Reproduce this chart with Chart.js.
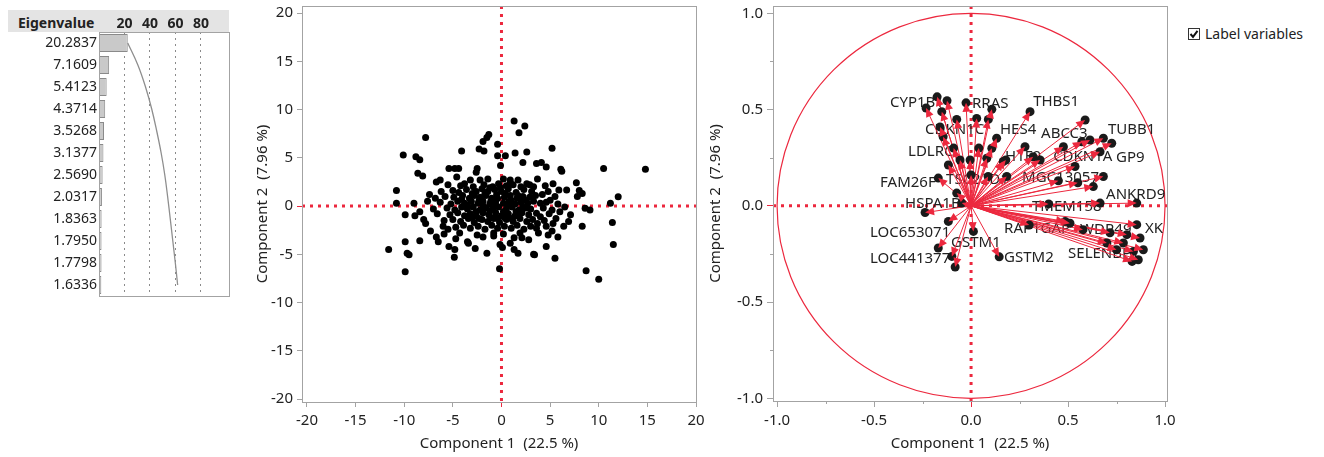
<!DOCTYPE html>
<html>
<head>
<meta charset="utf-8">
<script src="https://cdn.jsdelivr.net/npm/chart.js@4.4.1/dist/chart.umd.min.js"></script>
<style>
  body { margin:0; background:#fff; width:1324px; height:457px; position:relative; overflow:hidden; font-family:"Noto Sans", sans-serif; }
  canvas { position:absolute; top:0; }
  #eigenBand { position:absolute; left:8px; top:10px; width:221px; height:22px; background:#e4e4e4; }
  #eigenHead { position:absolute; left:18px; top:15px; font:bold 14px/16px "Noto Sans"; color:#222; }
  #labelToggle { position:absolute; left:1188px; top:26px; font:14px/16px "Noto Sans"; color:#222; }
  #labelToggle svg { vertical-align:-1px; margin-right:5px; }
</style>
</head>
<body>
<div id="eigenBand"></div>
<div id="eigenHead">Eigenvalue</div>
<canvas id="eigenChart" width="240" height="300" style="left:0"></canvas>
<canvas id="scoreChart" width="475" height="457" style="left:240px"></canvas>
<canvas id="loadChart" width="485" height="457" style="left:700px"></canvas>
<div id="labelToggle"><svg width="12" height="12"><rect x="0.5" y="0.5" width="11" height="11" fill="#fff" stroke="#333"/><polyline points="2.5,6 5,8.8 9.5,2.8" fill="none" stroke="#111" stroke-width="2"/></svg>Label variables</div>
<script>
// eigenvalue table
const eigenvalues = ['20.2837','7.1609','5.4123','4.3714','3.5268','3.1377','2.5690','2.0317','1.8363','1.7950','1.7798','1.6336'];
const percentVar = [22.54, 7.96, 6.01, 4.86, 3.92, 3.49, 2.85, 2.26, 2.04, 1.99, 1.98, 1.82];
const cumPercent = [22.54, 30.49, 36.51, 41.36, 45.28, 48.77, 51.62, 53.88, 55.92, 57.91, 59.89, 61.71];
const eigenTicks = [20, 40, 60, 80];

// score plot (component 1, component 2)
const scorePoints = [
  [1.3,8.8],[2.4,8.3],[1.8,7.6],[-7.8,7.1],[-1.3,7.4],[-1.5,7.1],[-1.9,6.7],[-0.4,6.4],[-10.1,5.3],[-8.8,5.1],
  [-8.4,4.8],[-4.1,5.7],[-2.3,5.9],[-1.8,5.7],[0.4,5.2],[1.4,5.5],[2.6,5.6],[-0.4,5.2],[-0.1,4.2],[2.2,4.5],
  [3.6,4.4],[-8.6,3.4],[-8.1,3.1],[-5.4,3.9],[-4.8,3.9],[-4.4,3.9],[-2.5,3.9],[-2.6,3.5],[-4.6,3.0],[-6.7,2.5],
  [-6.3,2.7],[-10.8,1.6],[-10.8,0.3],[-6.2,1.5],[-3.2,2.7],[-2.2,2.7],[-1.4,2.8],[0.2,2.8],[0.9,2.7],[1.7,2.7],
  [2.6,2.3],[3.3,2.0],[3.7,2.8],[5.2,6.0],[4.1,4.5],[4.6,4.05],[6.1,3.8],[6.2,3.6],[10.5,3.9],[14.8,3.8],
  [7.7,2.4],[5.9,1.65],[6.7,1.65],[8.0,1.6],[8.3,1.3],[7.8,1.0],[4.2,1.2],[12.0,0.96],[11.2,0.3],[8.6,-0.24],
  [9.1,-0.4],[7.1,-0.9],[8.3,-2.1],[11.4,-1.7],[11.5,-4.0],[4.6,-4.2],[3.4,-5.05],[5.5,-5.4],[8.7,-6.7],[10.0,-7.6],
  [4.6,-2.1],[3.6,-2.3],[3.8,-2.8],[5.8,-3.2],[6.4,-2.1],[4.0,0.3],[3.6,-0.75],
  [-9.9,-0.9],[-8.4,-0.6],[-8.0,-1.4],[-7.3,-2.6],[-6.0,-2.1],[-6.7,-3.2],[-6.5,-3.7],[-9.9,-3.7],[-8.4,-3.6],[-11.6,-4.5],
  [-9.7,-4.9],[-9.5,-5.05],[-9.9,-6.8],[-5.4,-4.2],[-4.8,-4.5],[-4.85,-5.3],[-4.7,-3.4],[-3.5,-3.7],[-3.4,-3.85],[-2.7,-4.4],
  [-1.5,-4.9],[-0.2,-6.5],[-0.15,-4.0],[0.1,-4.3],[1.3,-4.5],[1.7,-4.9],[0.9,-3.85],[1.3,-3.3],[2.1,-3.3],[3.3,-5.0],
  [-2.5,-3.0],[-0.8,-2.8],[-0.8,-3.1],
  [-5.5,2.2],[-4.2,2.1],[-3.8,2.3],[-2.9,2.0],[-1.8,2.2],[-0.9,2.0],[-0.3,2.3],[0.5,2.1],[1.2,2.2],[2.0,2.0],[2.9,2.2],[4.5,2.1],[5.3,2.3],
  [-7.4,1.2],[-5.0,1.6],[-4.4,1.4],[-3.6,1.7],[-2.6,1.5],[-2.0,1.8],[-1.4,1.5],[-0.7,1.7],[0.0,1.5],[0.7,1.8],[1.5,1.4],[2.3,1.7],[3.1,1.5],[4.8,1.5],[5.5,1.0],
  [-6.8,0.8],[-5.8,1.0],[-4.9,0.9],[-4.0,1.1],[-3.3,0.8],[-2.8,1.1],[-2.2,0.9],[-1.6,1.1],[-1.0,0.8],[-0.5,1.2],[0.3,0.9],[0.9,1.1],[1.6,0.8],[2.2,1.0],[2.9,0.9],[3.5,1.1],[5.0,0.6],
  [-9.0,0.3],[-7.6,0.5],[-6.3,0.4],[-5.2,0.2],[-4.5,0.5],[-3.8,0.3],[-3.1,0.5],[-2.4,0.3],[-1.9,0.5],[-1.2,0.2],[-0.6,0.5],[0.2,0.3],[0.8,0.5],[1.4,0.2],[2.0,0.4],[2.7,0.3],[3.3,0.5],[4.6,0.4],[5.8,0.2],[6.5,-0.1],
  [-7.0,-0.3],[-5.6,-0.2],[-4.8,-0.4],[-4.1,-0.1],[-3.5,-0.3],[-2.9,-0.1],[-2.2,-0.4],[-1.6,-0.2],[-0.9,-0.3],[-0.3,-0.1],[0.5,-0.3],[1.1,-0.1],[1.8,-0.4],[2.5,-0.2],[3.0,-0.3],[4.3,-0.2],[5.2,-0.4],[6.0,-0.6],
  [-8.9,-1.0],[-6.6,-0.8],[-5.3,-0.9],[-4.5,-0.7],[-3.8,-1.0],[-3.2,-0.8],[-2.6,-1.0],[-1.9,-0.7],[-1.3,-0.9],[-0.6,-0.7],[0.0,-1.0],[0.7,-0.8],[1.4,-1.0],[2.1,-0.7],[2.8,-0.9],[4.0,-1.1],[4.9,-0.8],[5.6,-1.3],
  [-7.8,-1.8],[-5.9,-1.5],[-5.0,-1.4],[-4.2,-1.6],[-3.4,-1.3],[-2.8,-1.7],[-2.0,-1.4],[-1.4,-1.6],[-0.8,-1.3],[-0.2,-1.7],[0.5,-1.4],[1.2,-1.6],[1.9,-1.3],[2.6,-1.6],[3.2,-1.4],[4.4,-1.5],[5.3,-1.8],[6.9,-1.6],
  [-5.5,-2.4],[-4.7,-2.2],[-3.9,-2.0],[-3.2,-2.3],[-2.4,-2.1],[-1.7,-2.4],[-1.0,-2.0],[-0.4,-2.3],[0.3,-2.1],[1.0,-2.3],[1.6,-2.0],[2.3,-2.4],[3.0,-2.1],[5.2,-2.6],
  [-5.9,-2.9],[-4.3,-2.8],[-1.9,-3.2],[0.2,-2.9],[1.9,-2.8],[2.8,-3.5],[4.8,-3.0],
  [-3.0,1.3],[-2.3,0.6],[-1.7,1.3],[-1.1,0.5],[-0.4,0.8],[0.4,1.3],[1.0,0.6],[1.7,1.1],[2.4,0.6],[-2.6,-0.6],
  [-1.9,0.0],[-1.2,-0.5],[-0.6,0.1],[0.2,-0.6],[0.8,0.1],[1.5,-0.6],[2.2,-0.1],[-3.0,-1.2],[-2.3,-1.3],[-1.1,-1.2],
  [-0.4,-1.3],[0.3,-1.2],[1.0,-1.3],[1.7,-1.0],[-3.5,0.1],[-4.1,0.7],[-0.1,1.9],[-1.2,1.9],[0.9,2.4],[3.7,-1.8]
];
const scoreTicks = [-20, -15, -10, -5, 0, 5, 10, 15, 20];

// loading plot (component 1, component 2)
const loadings = [
  [-0.175,0.566],[-0.124,0.546],[-0.232,0.508],[-0.151,0.489],[-0.026,0.535],[0.107,0.501],[-0.074,0.449],[0.029,0.454],[0.089,0.449],[-0.160,0.410],
  [-0.144,0.359],[0.132,0.351],[0.107,0.299],[-0.117,0.212],[-0.057,0.238],[-0.005,0.238],[0.081,0.247],[0.179,0.238],[-0.169,0.144],[0.184,0.152],
  [0.088,0.152],[0.0,0.16],[-0.074,0.066],[0.04,0.30],[-0.09,0.30],
  [0.304,0.489],[0.278,0.307],[0.320,0.255],[0.588,0.446],[0.613,0.342],[0.571,0.333],[0.682,0.351],[0.725,0.325],[0.476,0.307],[0.356,0.238],
  [0.166,0.230],[0.536,0.204],[0.665,0.281],[0.682,0.152],[0.630,0.100],[0.45,0.13],[0.55,0.12],
  [0.665,0.014],[0.854,0.014],[0.485,-0.081],[0.854,-0.098],[0.803,-0.150],[0.871,-0.167],[0.837,-0.237],[0.888,-0.228],[0.862,-0.280],[0.785,-0.193],
  [0.51,-0.09],[0.577,-0.124],[0.716,-0.140],[0.700,-0.193],[0.750,-0.228],[0.830,-0.289],[0.40,0.01],[0.30,-0.10],
  [-0.048,0.014],[-0.237,-0.035],[-0.117,-0.081],[0.012,-0.133],[-0.169,-0.219],[-0.099,-0.263],[-0.082,-0.318],[0.145,-0.265]
];
const varLabels = ['CYP1B1','RRAS','THBS1','CDKN1C','HES4','ABCC3','TUBB1','LDLRC','H1F0','CDKN1A','GP9','FAM26F','TSC22D1',
  'MGC13057','ANKRD9','HSPA1B','TMEM158','XK','LOC653071','RAP1GAP','WDR49','SELENBP1','GSTM1','LOC441377','GSTM2'];
const labelAt = [[-0.418,0.534],[0.005,0.528],[0.32,0.539],[-0.237,0.394],[0.149,0.394],[0.361,0.373],[0.706,0.394],[-0.325,0.28],
  [0.175,0.254],[0.423,0.254],[0.747,0.249],[-0.469,0.119],[-0.129,0.135],[0.263,0.145],[0.696,0.057],[-0.34,0.01],[0.314,-0.005],
  [0.897,-0.119],[-0.521,-0.14],[0.17,-0.119],[0.562,-0.124],[0.5,-0.249],[-0.103,-0.192],[-0.521,-0.275],[0.17,-0.269]];
const loadTicks = [-1, -0.5, 0, 0.5, 1];

const RED = 'rgb(236,40,62)';
const AXIS = '#a3a3a3';
const INK = '#222';
Chart.defaults.font.family = '"Noto Sans", sans-serif';
Chart.defaults.animation = false;

// box round the plot area
const frameBox = {
  id: 'frameBox',
  afterDatasetsDraw(chart) {
    const {ctx, chartArea: a} = chart;
    ctx.save();
    ctx.strokeStyle = AXIS;
    ctx.lineWidth = 1;
    ctx.strokeRect(Math.round(a.left) + 0.5, Math.round(a.top) + 0.5, Math.round(a.right - a.left), Math.round(a.bottom - a.top));
    ctx.restore();
  }
};

// red dotted lines through 0,0
const zeroLines = {
  id: 'zeroLines',
  beforeDatasetsDraw(chart) {
    const {ctx, chartArea: a, scales: {x, y}} = chart;
    const x0 = x.getPixelForValue(0), y0 = y.getPixelForValue(0);
    ctx.save();
    ctx.strokeStyle = RED;
    ctx.lineWidth = 3;
    ctx.setLineDash([3, 5]);
    ctx.beginPath(); ctx.moveTo(x0, a.top); ctx.lineTo(x0, a.bottom); ctx.stroke();
    ctx.beginPath(); ctx.moveTo(a.left, y0); ctx.lineTo(a.right, y0); ctx.stroke();
    ctx.restore();
  }
};

function fixedTicks(values) {
  return s => { s.ticks = values.map(v => ({value: v})); };
}
function tickColor(c) {
  return c.tick && c.tick.value === 0 ? RED : AXIS;
}

// ---- eigenvalue bars ----
new Chart(document.getElementById('eigenChart'), {
  type: 'bar',
  data: {
    labels: eigenvalues,
    datasets: [
      {type: 'line', indexAxis: 'y', data: cumPercent, borderColor: '#8e8e8e', borderWidth: 1.3, pointRadius: 0, tension: 0.4, order: 0},
      {data: percentVar, backgroundColor: '#c9c9c9', borderColor: '#8a8a8a', borderWidth: 1, borderSkipped: false,
       barPercentage: 0.82, categoryPercentage: 1, order: 1}
    ]
  },
  options: {
    indexAxis: 'y',
    responsive: false,
    layout: {padding: {top: 10, right: 11, bottom: 4, left: 0}},
    plugins: {legend: {display: false}, tooltip: {enabled: false}},
    scales: {
      x: {
        position: 'top', min: 0, max: 102,
        afterBuildTicks: fixedTicks(eigenTicks),
        ticks: {padding: 0, color: INK, font: {size: 14, weight: 'bold'}, maxRotation: 0, autoSkip: false},
        grid: {drawTicks: false, color: '#8a8a8a', lineWidth: 1},
        border: {display: false, dash: [2, 4]},
        afterFit: s => { s.height = 22; s.paddingLeft = 0; s.paddingRight = 0; }
      },
      y: {
        ticks: {padding: 2, color: INK, font: {size: 14}},
        grid: {display: false, drawTicks: false},
        border: {display: false},
        afterFit: s => { s.width = 99; s.paddingTop = 0; s.paddingBottom = 0; }
      }
    }
  },
  plugins: [frameBox]
});

// ---- score plot ----
new Chart(document.getElementById('scoreChart'), {
  type: 'scatter',
  data: {
    datasets: [{
      data: scorePoints.map(p => ({x: p[0], y: p[1]})),
      backgroundColor: '#000', borderColor: '#000', pointRadius: 3.5, borderWidth: 0
    }]
  },
  options: {
    responsive: false,
    layout: {padding: {top: 6, right: 19, bottom: 0, left: 0}},
    plugins: {legend: {display: false}, tooltip: {enabled: false}},
    scales: {
      x: {
        min: -20.51, max: 20,
        afterBuildTicks: fixedTicks(scoreTicks),
        ticks: {padding: 5, color: INK, font: {size: 15}, maxRotation: 0, autoSkip: false},
        grid: {drawOnChartArea: false, tickLength: 5, color: tickColor},
        border: {display: false},
        title: {display: true, text: 'Component 1  (22.5 %)', color: INK, font: {size: 15}, padding: {top: 0, bottom: 4}},
        afterFit: s => { s.height = 55; s.paddingLeft = 0; s.paddingRight = 0; }
      },
      y: {
        min: -20.31, max: 20.73,
        afterBuildTicks: fixedTicks(scoreTicks),
        ticks: {padding: 4, color: INK, font: {size: 15}, autoSkip: false},
        grid: {drawOnChartArea: false, tickLength: 5, color: tickColor},
        border: {display: false},
        title: {display: true, text: 'Component 2  (7.96 %)', color: INK, font: {size: 15}, padding: {top: 14, bottom: 0}},
        afterFit: s => { s.width = 62; s.paddingTop = 0; s.paddingBottom = 0; }
      }
    }
  },
  plugins: [zeroLines, frameBox]
});

// ---- loading plot ----
const unitCircle = {
  id: 'unitCircle',
  beforeDatasetsDraw(chart) {
    const {ctx, scales: {x, y}} = chart;
    const cx = x.getPixelForValue(0), cy = y.getPixelForValue(0);
    ctx.save();
    ctx.strokeStyle = RED;
    ctx.lineWidth = 1.2;
    ctx.beginPath();
    ctx.ellipse(cx, cy, x.getPixelForValue(1) - cx, cy - y.getPixelForValue(1), 0, 0, Math.PI * 2);
    ctx.stroke();
    // variable names sit under the arrows
    ctx.fillStyle = INK;
    ctx.font = '15px "Noto Sans"';
    ctx.textBaseline = 'middle';
    varLabels.forEach((name, i) => {
      ctx.fillText(name, x.getPixelForValue(labelAt[i][0]), y.getPixelForValue(labelAt[i][1]));
    });
    ctx.restore();
  },
  afterDatasetsDraw(chart) {
    const {ctx, scales: {x, y}} = chart;
    const ox = x.getPixelForValue(0), oy = y.getPixelForValue(0);
    const meta = chart.getDatasetMeta(0);
    ctx.save();
    ctx.fillStyle = RED;
    meta.data.forEach(pt => {
      const a = Math.atan2(pt.y - oy, pt.x - ox);
      ctx.beginPath();
      ctx.moveTo(pt.x, pt.y);
      ctx.lineTo(pt.x - 9 * Math.cos(a) + 4 * Math.sin(a), pt.y - 9 * Math.sin(a) - 4 * Math.cos(a));
      ctx.lineTo(pt.x - 9 * Math.cos(a) - 4 * Math.sin(a), pt.y - 9 * Math.sin(a) + 4 * Math.cos(a));
      ctx.closePath();
      ctx.fill();
    });
    ctx.restore();
  }
};

// minor ticks every 0.25
const minorTicks = {
  id: 'minorTicks',
  afterDraw(chart) {
    const {ctx, chartArea: a, scales: {x, y}} = chart;
    ctx.save();
    ctx.strokeStyle = AXIS;
    ctx.lineWidth = 1;
    [-0.75, -0.25, 0.25, 0.75].forEach(v => {
      const px = Math.round(x.getPixelForValue(v)) + 0.5;
      const py = Math.round(y.getPixelForValue(v)) + 0.5;
      ctx.beginPath(); ctx.moveTo(px, a.bottom); ctx.lineTo(px, a.bottom + 3); ctx.stroke();
      ctx.beginPath(); ctx.moveTo(a.left - 3, py); ctx.lineTo(a.left, py); ctx.stroke();
    });
    ctx.restore();
  }
};

const arrowSets = loadings.map(p => ({
  type: 'line',
  data: [{x: 0, y: 0}, {x: p[0], y: p[1]}],
  borderColor: RED, borderWidth: 1, pointRadius: 0, showLine: true, order: 1
}));

new Chart(document.getElementById('loadChart'), {
  type: 'scatter',
  data: {
    datasets: [
      {data: loadings.map(p => ({x: p[0], y: p[1]})), backgroundColor: '#1a1a1a', borderColor: '#1a1a1a',
       pointRadius: 4.5, borderWidth: 0, order: 0}
    ].concat(arrowSets)
  },
  options: {
    responsive: false,
    layout: {padding: {top: 6, right: 18, bottom: 0, left: 0}},
    plugins: {legend: {display: false}, tooltip: {enabled: false}},
    scales: {
      x: {
        min: -1.021, max: 1.01,
        afterBuildTicks: fixedTicks(loadTicks),
        ticks: {padding: 5, color: INK, font: {size: 15}, maxRotation: 0, autoSkip: false, callback: v => v.toFixed(1)},
        grid: {drawOnChartArea: false, tickLength: 6, color: tickColor},
        border: {display: false},
        title: {display: true, text: 'Component 1  (22.5 %)', color: INK, font: {size: 15}, padding: {top: 0, bottom: 4}},
        afterFit: s => { s.height = 56; s.paddingLeft = 0; s.paddingRight = 0; }
      },
      y: {
        min: -1.014, max: 1.038,
        afterBuildTicks: fixedTicks(loadTicks),
        ticks: {padding: 4, color: INK, font: {size: 15}, autoSkip: false, callback: v => v.toFixed(1)},
        grid: {drawOnChartArea: false, tickLength: 6, color: tickColor},
        border: {display: false},
        title: {display: true, text: 'Component 2  (7.96 %)', color: INK, font: {size: 15}, padding: {top: 7, bottom: 0}},
        afterFit: s => { s.width = 73; s.paddingTop = 0; s.paddingBottom = 0; }
      }
    }
  },
  plugins: [zeroLines, unitCircle, frameBox, minorTicks]
});
</script>
</body>
</html>
